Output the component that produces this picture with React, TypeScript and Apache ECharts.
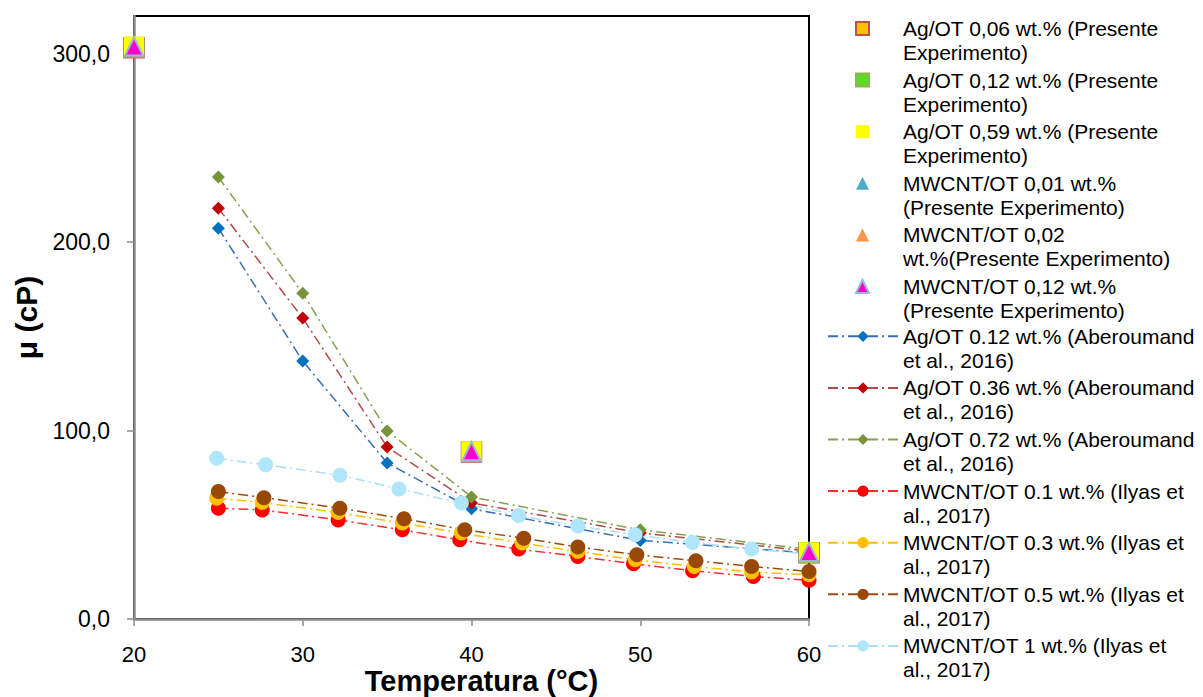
import React, { useEffect, useRef } from "react";
import * as echarts from "echarts";

// ---------- data ----------
const presenteTemps = [20, 40, 60];
const agPres006 = [303.2, 88.6, 35.1];
const agPres012 = [303.4, 88.8, 35.2];
const agPres059 = [303.8, 89.0, 35.4];
const mwPres001 = [303.2, 88.7, 35.1];
const mwPres002 = [303.5, 88.9, 35.3];
const mwPres012 = [303.8, 89.0, 35.5];

const aberTemps = [25, 30, 35, 40, 50, 60];
const agAber012 = [207.4, 136.9, 82.8, 58.5, 41.7, 35.0];
const agAber036 = [218.0, 159.7, 91.3, 61.6, 45.7, 36.0];
const agAber072 = [234.5, 172.9, 99.8, 64.8, 47.3, 37.0];

const ilyasTemps01 = [25, 27.6, 32.1, 35.9, 39.3, 42.8, 46.3, 49.6, 53.1, 56.7, 60];
const ilyasTemps03 = [24.9, 27.6, 32.1, 35.9, 39.4, 43.0, 46.3, 49.7, 53.2, 56.6, 60];
const ilyasTemps05 = [25, 27.7, 32.2, 36.0, 39.6, 43.1, 46.3, 49.8, 53.3, 56.6, 60];
const ilyasTemps1 = [24.9, 27.8, 32.2, 35.7, 39.4, 42.8, 46.3, 49.7, 53.1, 56.6, 60];
const mwIlyas01 = [58.8, 57.9, 52.6, 47.3, 42.0, 37.1, 33.2, 29.3, 25.6, 22.6, 20.5];
const mwIlyas03 = [64.1, 61.8, 56.5, 50.9, 45.6, 40.3, 35.8, 31.4, 27.9, 24.9, 23.5];
const mwIlyas05 = [67.6, 64.4, 58.8, 53.2, 47.3, 42.9, 38.2, 34.1, 30.9, 27.9, 25.2];
const mwIlyas1 = [85.3, 81.8, 76.3, 69.0, 61.5, 54.9, 49.4, 44.7, 40.6, 37.1, 34.5];

const xTicks = [20, 30, 40, 50, 60];
const yTicks = [0, 100, 200, 300];

const legendLines: string[][] = [
  ["Ag/OT 0,06 wt.% (Presente", "Experimento)"],
  ["Ag/OT 0,12 wt.% (Presente", "Experimento)"],
  ["Ag/OT 0,59 wt.% (Presente", "Experimento)"],
  ["MWCNT/OT 0,01 wt.%", "(Presente Experimento)"],
  ["MWCNT/OT 0,02", "wt.%(Presente Experimento)"],
  ["MWCNT/OT 0,12 wt.%", "(Presente Experimento)"],
  ["Ag/OT 0.12 wt.% (Aberoumand", "et al., 2016)"],
  ["Ag/OT 0.36 wt.% (Aberoumand", "et al., 2016)"],
  ["Ag/OT 0.72 wt.% (Aberoumand", "et al., 2016)"],
  ["MWCNT/OT 0.1 wt.% (Ilyas et", "al., 2017)"],
  ["MWCNT/OT 0.3 wt.% (Ilyas et", "al., 2017)"],
  ["MWCNT/OT 0.5 wt.% (Ilyas et", "al., 2017)"],
  ["MWCNT/OT 1 wt.% (Ilyas et", "al., 2017)"],
];
const names = legendLines.map((l) => l.join(" "));

const FONT = "'Liberation Sans', Arial, sans-serif";

function pts(xs: number[], ys: number[]) {
  return xs.map((x, i) => [x, ys[i]]);
}

export default function App() {
  const ref = useRef<HTMLDivElement>(null);
  useEffect(() => {
    document.body.style.margin = "0";
    if (!ref.current) return;
    const chart = echarts.init(ref.current, undefined, { renderer: "svg" });
    const dash = [10, 4, 2, 4];

    const scatter = (i: number, ys: number[], symbol: string, size: number, color: string, border?: string, bw = 0) => ({
      name: names[i],
      type: "scatter",
      z: 4,
      symbol,
      symbolSize: size,
      symbolKeepAspect: true,
      data: pts(presenteTemps, ys),
      itemStyle: { color, borderColor: border || color, borderWidth: bw, opacity: 1 },
    });
    const line = (i: number, xs: number[], ys: number[], symbol: string, size: number, mColor: string, lColor: string) => ({
      name: names[i],
      type: "line",
      z: 2,
      symbol,
      symbolSize: size,
      showSymbol: true,
      data: pts(xs, ys),
      itemStyle: { color: mColor, borderWidth: 0 },
      lineStyle: { color: lColor, width: 1.5, type: dash },
      emphasis: { disabled: true },
    });

    const series = [
      scatter(0, agPres006, "rect", 20, "#FFC000", "#C0504D", 1.5),
      scatter(1, agPres012, "rect", 20, "#5EDB2A", "#8DB84E", 1),
      scatter(2, agPres059, "rect", 20, "#FFFF00"),
      scatter(3, mwPres001, "triangle", 19, "#4BACC6"),
      scatter(4, mwPres002, "triangle", 19, "#F79646"),
      scatter(5, mwPres012, "triangle", 18, "#FF00CC", "#9DB5D6", 2),
      line(6, aberTemps, agAber012, "diamond", 13, "#0070C0", "#3A6DB3"),
      line(7, aberTemps, agAber036, "diamond", 13, "#C00000", "#B34A4A"),
      line(8, aberTemps, agAber072, "diamond", 13, "#77933C", "#84A24E"),
      line(9, ilyasTemps01, mwIlyas01, "circle", 15, "#FF0000", "#FF2A2A"),
      line(10, ilyasTemps03, mwIlyas03, "circle", 15, "#FFC000", "#FFC000"),
      line(11, ilyasTemps05, mwIlyas05, "circle", 15, "#984807", "#9A4C10"),
      line(12, ilyasTemps1, mwIlyas1, "circle", 15, "#B0E6FA", "#A8E0F6"),
    ];

    const legendFormatter = (name: string) => {
      const i = names.indexOf(name);
      const l = legendLines[i];
      return `{t|${l[0]}}\n{t|${l[1]}}`;
    };
    const rich = { t: { fontFamily: FONT, fontSize: 21, lineHeight: 24, color: "#000" } };
    const itemGap = 6.6;
    const step = 51.3;
    const legendTop = 18;

    const axisGray = "#8C8C8C";
    chart.setOption({
      animation: false,
      grid: {
        left: 134,
        right: 394,
        top: 16,
        bottom: 78,
        show: true,
        borderColor: "#000",
        borderWidth: 2,
        backgroundColor: "#fff",
        containLabel: false,
        outerBoundsMode: "none",
      },
      xAxis: {
        type: "value",
        min: 20,
        max: 60,
        interval: 10,
        name: "Temperatura (°C)",
        nameLocation: "middle",
        nameGap: 47,
        nameMoveOverlap: false,
        nameTextStyle: {
          fontFamily: FONT,
          fontSize: 29,
          fontWeight: "bold",
          color: "#000",
          padding: [0, 0, 0, 20],
        },
        axisLine: { show: true, onZero: false, lineStyle: { color: axisGray, width: 2.5 } },
        axisTick: { show: true, inside: false, length: 7, customValues: xTicks, lineStyle: { color: axisGray, width: 1.5 } },
        axisLabel: {
          customValues: xTicks,
          margin: 24,
          fontFamily: FONT,
          fontSize: 22,
          color: "#000",
        },
        splitLine: { show: false },
      },
      yAxis: {
        type: "value",
        min: 0,
        max: 320,
        interval: 100,
        name: "μ (cP)",
        nameLocation: "middle",
        nameGap: 93,
        nameMoveOverlap: false,
        nameRotate: 90,
        nameTextStyle: { fontFamily: FONT, fontSize: 30, fontWeight: "bold", color: "#000" },
        axisLine: { show: true, onZero: false, lineStyle: { color: axisGray, width: 2.5 } },
        axisTick: { show: true, inside: false, length: 7, customValues: yTicks, lineStyle: { color: axisGray, width: 1.5 } },
        axisLabel: {
          customValues: yTicks,
          margin: 24,
          fontFamily: FONT,
          fontSize: 23,
          color: "#000",
          formatter: (v: number) => v.toFixed(1).replace(".", ","),
        },
        splitLine: { show: false },
      },
      legend: [
        {
          orient: "vertical",
          left: 827 + 28,
          top: legendTop,
          padding: 0,
          itemGap,
          itemWidth: 13,
          itemHeight: 13,
          selectedMode: false,
          data: names.slice(0, 6),
          formatter: legendFormatter,
          textStyle: {
            fontFamily: FONT,
            fontSize: 21,
            color: "#000",
            padding: [24, 0, 0, 29],
            rich,
          },
        },
        {
          orient: "vertical",
          left: 827,
          top: legendTop + 6 * step,
          padding: 0,
          itemGap,
          itemWidth: 70,
          itemHeight: 14,
          selectedMode: false,
          data: names.slice(6),
          formatter: legendFormatter,
          textStyle: {
            fontFamily: FONT,
            fontSize: 21,
            color: "#000",
            padding: [24, 0, 0, 0],
            rich,
          },
        },
      ],
      series,
    });
    return () => chart.dispose();
  }, []);
  return <div ref={ref} style={{ width: 1203, height: 697 }} />;
}
